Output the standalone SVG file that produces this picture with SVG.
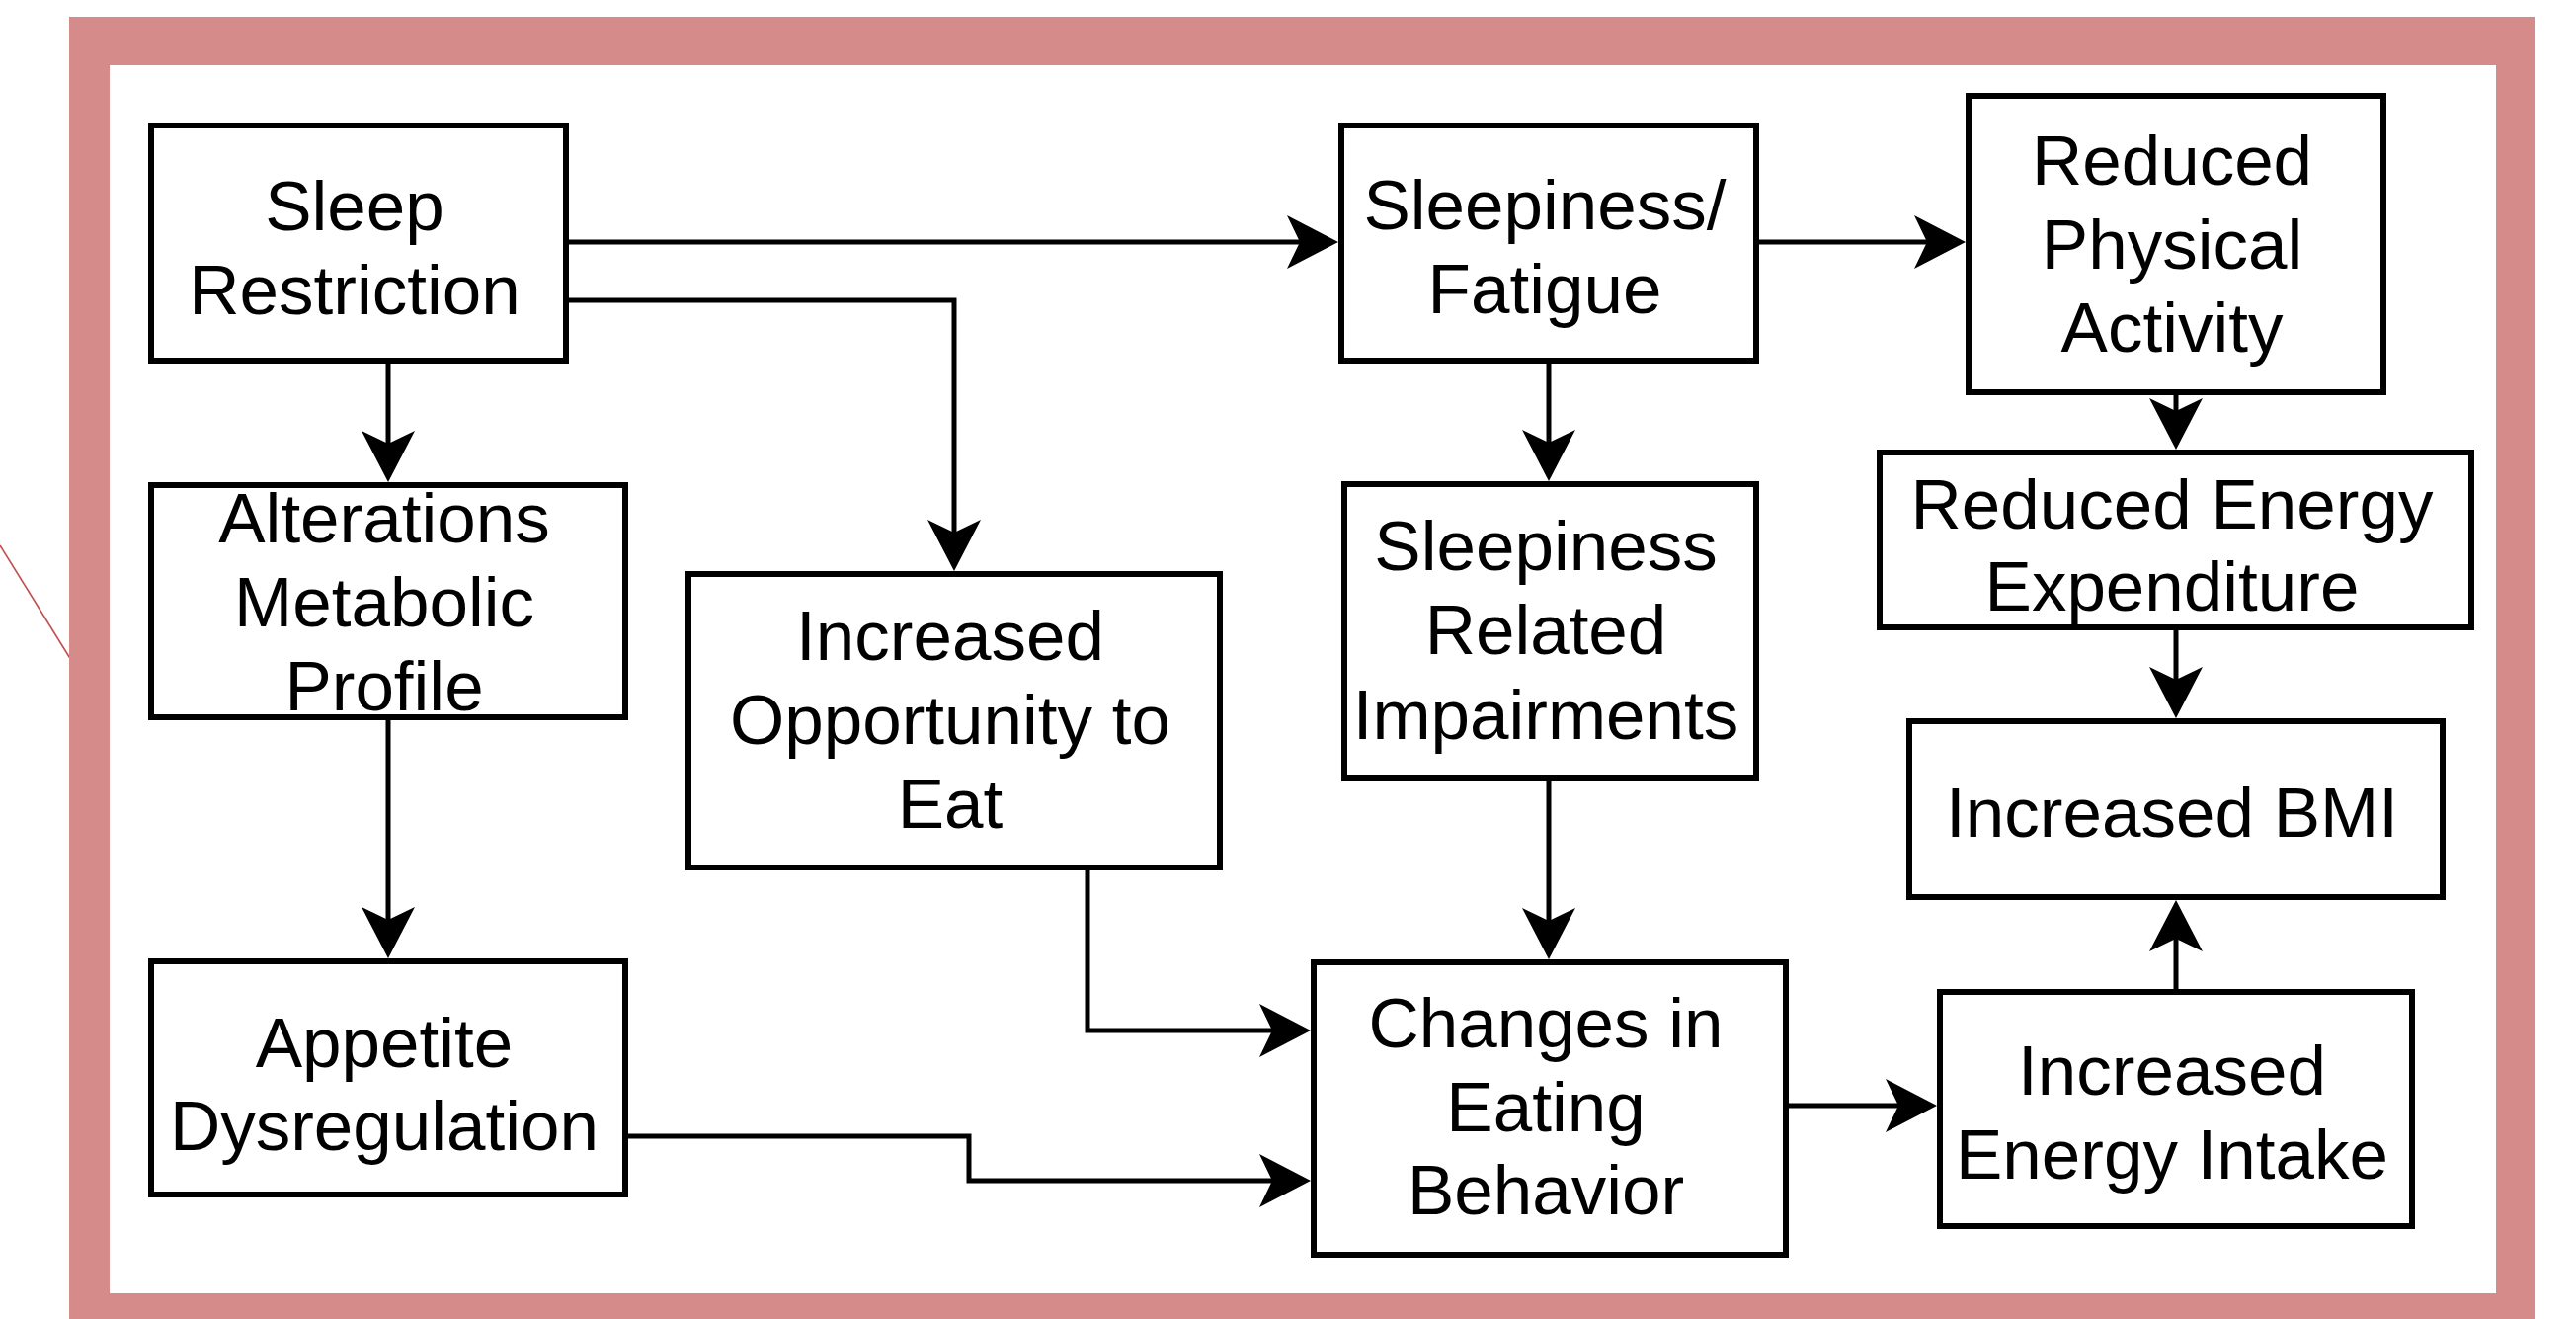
<svg xmlns="http://www.w3.org/2000/svg" width="2608" height="1335" viewBox="0 0 2608 1335">
<style>
.box{fill:#ffffff;stroke:#000000;stroke-width:6}
.lbl{font-family:"Liberation Sans",Arial,Helvetica,sans-serif;font-size:71px;fill:#000000;text-anchor:middle}
.con{fill:none;stroke:#000000;stroke-width:5;marker-end:url(#arr)}
</style>
<defs>
<marker id="arr" markerUnits="userSpaceOnUse" markerWidth="60" markerHeight="60" refX="32" refY="27" orient="auto" overflow="visible">
<path d="M0,0 L52,27 L0,54 L13,27 Z" fill="#000000"/>
</marker>
</defs>
<rect x="0" y="0" width="2608" height="1335" fill="#ffffff"/>
<line x1="0" y1="552" x2="72" y2="668" stroke="#c0504d" stroke-width="1.6"/>
<rect x="70" y="17" width="2496" height="1330" fill="#d68b8b"/>
<rect x="111" y="66" width="2416" height="1243" fill="#ffffff"/>

<g id="connectors">
<path class="con" d="M576 245 H1335"/>
<path class="con" d="M576 304 H966 V558"/>
<path class="con" d="M393 368 V468"/>
<path class="con" d="M393 729 V950"/>
<path class="con" d="M636 1150 H981 V1195 H1307"/>
<path class="con" d="M1101 881 V1043 H1307"/>
<path class="con" d="M1568 368 V467"/>
<path class="con" d="M1568 790 V951"/>
<path class="con" d="M1781 245 H1970"/>
<path class="con" d="M2203 400 V435"/>
<path class="con" d="M2203 638 V707"/>
<path class="con" d="M1811 1119 H1941"/>
<path class="con" d="M2203 1001 V931"/>
</g>

<g id="sleep-restriction">
<rect class="box" x="153" y="127" width="420" height="238"/>
<text class="lbl" x="359" y="233">Sleep</text>
<text class="lbl" x="359" y="318">Restriction</text>
</g>
<g id="alterations-metabolic-profile">
<rect class="box" x="153" y="491" width="480" height="235"/>
<text class="lbl" x="389" y="549">Alterations</text>
<text class="lbl" x="389" y="634">Metabolic</text>
<text class="lbl" x="389" y="719">Profile</text>
</g>
<g id="appetite-dysregulation">
<rect class="box" x="153" y="973" width="480" height="236"/>
<text class="lbl" x="389" y="1080">Appetite</text>
<text class="lbl" x="389" y="1164">Dysregulation</text>
</g>
<g id="increased-opportunity">
<rect class="box" x="697" y="581" width="538" height="297"/>
<text class="lbl" x="962" y="668">Increased</text>
<text class="lbl" x="962" y="753">Opportunity to</text>
<text class="lbl" x="962" y="838">Eat</text>
</g>
<g id="sleepiness-fatigue">
<rect class="box" x="1358" y="127" width="420" height="238"/>
<text class="lbl" x="1564" y="232">Sleepiness/</text>
<text class="lbl" x="1564" y="317">Fatigue</text>
</g>
<g id="sleepiness-related-impairments">
<rect class="box" x="1361" y="490" width="417" height="297"/>
<text class="lbl" x="1565" y="577">Sleepiness</text>
<text class="lbl" x="1565" y="662">Related</text>
<text class="lbl" x="1565" y="748">Impairments</text>
</g>
<g id="changes-eating-behavior">
<rect class="box" x="1330" y="974" width="478" height="296"/>
<text class="lbl" x="1565" y="1060">Changes in</text>
<text class="lbl" x="1565" y="1145">Eating</text>
<text class="lbl" x="1565" y="1229">Behavior</text>
</g>
<g id="reduced-physical-activity">
<rect class="box" x="1993" y="97" width="420" height="300"/>
<text class="lbl" x="2199" y="187">Reduced</text>
<text class="lbl" x="2199" y="272">Physical</text>
<text class="lbl" x="2199" y="356">Activity</text>
</g>
<g id="reduced-energy-expenditure">
<rect class="box" x="1903" y="458" width="599" height="177"/>
<text class="lbl" x="2199" y="535">Reduced Energy</text>
<text class="lbl" x="2199" y="618">Expenditure</text>
</g>
<g id="increased-bmi">
<rect class="box" x="1933" y="730" width="540" height="178"/>
<text class="lbl" x="2199" y="847">Increased BMI</text>
</g>
<g id="increased-energy-intake">
<rect class="box" x="1964" y="1004" width="478" height="237"/>
<text class="lbl" x="2199" y="1108">Increased</text>
<text class="lbl" x="2199" y="1193">Energy Intake</text>
</g>
</svg>
